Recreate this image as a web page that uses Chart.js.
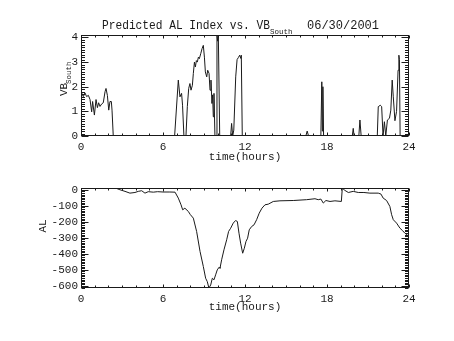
<!DOCTYPE html>
<html>
<head>
<meta charset="utf-8">
<title>Predicted AL Index vs. VB South</title>
<script src="https://cdn.jsdelivr.net/npm/chart.js@4/dist/chart.umd.min.js"></script>
<style>
  html, body { margin: 0; padding: 0; background: #fff; }
  #wrap { position: relative; width: 454px; height: 341px; overflow: hidden; }
  canvas { position: absolute; left: 0; }
  #vbCanvas { top: 0; }
  #alCanvas { top: 170px; }
</style>
</head>
<body>
<div id="wrap">
  <canvas id="vbCanvas" width="454" height="170"></canvas>
  <canvas id="alCanvas" width="454" height="171"></canvas>
</div>
<script>
// ---- time axis (hours UT) ----
const xTickHours = [0, 6, 12, 18, 24];

// ---- southward IMF, VB_South ----
const vbHours = [
  0.0, 0.05, 0.17, 0.29, 0.41, 0.54, 0.66, 0.78, 0.85, 0.98,
  1.1, 1.2, 1.29, 1.39, 1.51, 1.63, 1.76, 1.83, 1.93, 2.03,
  2.12, 2.22, 2.27, 2.36, 6.85, 7.12, 7.24, 7.36, 7.43, 7.53,
  7.68, 7.78, 7.88, 7.97, 8.05, 8.15, 8.22, 8.3, 8.37, 8.44,
  8.51, 8.59, 8.66, 8.76, 8.86, 8.95, 9.03, 9.1, 9.2, 9.27,
  9.37, 9.44, 9.51, 9.58, 9.63, 9.68, 9.73, 9.8, 9.88, 9.95,
  10.0, 10.05, 10.15, 10.95, 11.02, 11.1, 11.18, 11.32, 11.42, 11.52,
  11.61, 11.69, 11.73, 11.8, 16.45, 16.55, 16.65, 17.55, 17.62, 17.66,
  17.7, 17.75, 19.85, 19.92, 19.98, 20.33, 20.41, 20.5, 21.68, 21.75,
  21.9, 22.0, 22.1, 22.2, 22.3, 22.42, 22.57, 22.67, 22.77, 22.85,
  22.97, 23.09, 23.2, 23.26, 23.3, 23.35, 24.0
];
const vbSouth = [
  1.8, 1.8, 1.6, 1.75, 1.6, 1.65, 1.48, 0.98, 1.4, 0.85,
  1.48, 1.15, 1.35, 1.2, 1.3, 1.35, 1.8, 1.93, 1.65, 1.05,
  1.4, 1.4, 1.05, 0, 0, 2.27, 1.59, 1.73, 1.25, 0,
  0, 1.19, 1.93, 2.13, 1.86, 2.06, 2.54, 3.0, 2.8, 3.06,
  3.0, 3.2, 3.14, 3.34, 3.55, 3.68, 3.2, 2.6, 2.4, 2.67,
  2.54, 1.86, 2.27, 1.32, 1.67, 0.78, 1.73, 0, 0, 4.1,
  3.85, 4.05, 0, 0, 0.51, 0, 0.24, 2.4, 3.1, 3.19,
  3.28, 3.15, 3.28, 0, 0, 0.2, 0, 0, 2.2, 0.2,
  2.0, 0, 0, 0.31, 0, 0, 0.65, 0, 0, 1.19,
  1.25, 1.19, 0, 0.58, 0, 0.65, 0.72, 1.05, 2.27, 1.59,
  0.62, 1.0, 2.67, 3.28, 3.1, 0, 0
];
const vbTicks = [0, 1, 2, 3, 4];

// ---- predicted AL index (nT) ----
const alHours = [
  0.0, 2.5, 2.61, 2.85, 3.22, 3.58, 3.95, 4.19, 4.44, 4.68,
  4.92, 5.29, 5.6, 6.0, 6.5, 6.88, 7.12, 7.32, 7.44, 7.6,
  7.85, 8.0, 8.22, 8.46, 8.71, 8.95, 9.12, 9.24, 9.36, 9.49,
  9.61, 9.73, 9.85, 9.97, 10.1, 10.17, 10.29, 10.46, 10.66, 10.8,
  10.95, 11.14, 11.31, 11.44, 11.56, 11.68, 11.83, 11.95, 12.07, 12.19,
  12.31, 12.49, 12.66, 12.85, 13.04, 13.24, 13.46, 13.7, 14.07, 14.56,
  15.53, 16.5, 17.12, 17.36, 17.55, 17.73, 17.92, 18.22, 18.58, 19.05,
  19.12, 19.31, 19.56, 19.92, 20.29, 20.7, 21.14, 21.75, 21.95, 22.11,
  22.36, 22.6, 22.73, 22.85, 23.09, 23.34, 23.53, 23.7, 23.87, 24.0
];
const alIndex = [
  10, 10, 8, 0, -10, -21, -17, -10, -6, -21,
  -12, -15, -12, -14, -14, -15, -52, -94, -125, -115,
  -135, -155, -177, -260, -385, -479, -552, -573, -613, -594,
  -552, -562, -531, -500, -484, -490, -437, -375, -312, -260,
  -240, -208, -192, -198, -271, -333, -396, -365, -323, -302,
  -250, -229, -219, -187, -146, -115, -94, -90, -73, -69,
  -67, -62, -56, -62, -58, -83, -67, -73, -69, -73,
  10, -4, -17, -10, -17, -17, -21, -21, -27, -52,
  -67, -104, -156, -187, -208, -240, -255, -271, -281, -295
];
const alTicks = [0, -100, -200, -300, -400, -500, -600];

const INK = '#1a1a1a';
const MONO = '"Liberation Mono", "DejaVu Sans Mono", monospace';

// Boxed axes with inward major/minor ticks on all four sides, plus the
// panel's free text (title, axis titles with subscripts).
const idlFrame = {
  id: 'idlFrame',
  afterDraw(chart, args, o) {
    const { ctx, chartArea: a } = chart;
    const xs = chart.scales.x, ys = chart.scales.y;
    const L = Math.round(a.left) + 0.5, R = Math.round(a.right) - 0.5;
    const T = Math.round(a.top) + 0.5, B = Math.round(a.bottom) - 0.5;
    ctx.save();
    ctx.strokeStyle = INK;
    ctx.lineWidth = 1;
    ctx.strokeRect(L, T, R - L, B - T);
    ctx.beginPath();
    // x ticks (bottom and top edges)
    const xk0 = Math.ceil(xs.min / o.xMinor - 1e-6), xk1 = Math.floor(xs.max / o.xMinor + 1e-6);
    for (let k = xk0; k <= xk1; k++) {
      const v = k * o.xMinor;
      const px = Math.round(xs.getPixelForValue(v)) + 0.5;
      const len = (k % o.xPer === 0) ? o.xMajorLen : o.xMinorLen;
      ctx.moveTo(px, B); ctx.lineTo(px, B - len);
      ctx.moveTo(px, T); ctx.lineTo(px, T + len);
    }
    // y ticks (left and right edges)
    const yk0 = Math.ceil(ys.min / o.yMinor - 1e-6), yk1 = Math.floor(ys.max / o.yMinor + 1e-6);
    for (let k = yk0; k <= yk1; k++) {
      const v = k * o.yMinor;
      const py = Math.round(ys.getPixelForValue(v)) + 0.5;
      const len = (k % o.yPer === 0) ? o.yMajorLen : o.yMinorLen;
      ctx.moveTo(L, py); ctx.lineTo(L + len, py);
      ctx.moveTo(R, py); ctx.lineTo(R - len, py);
    }
    ctx.stroke();

    ctx.fillStyle = INK;
    for (const t of (o.texts || [])) {
      ctx.save();
      ctx.translate(t.x, t.y);
      if (t.rotate) ctx.rotate(t.rotate);
      ctx.font = t.font;
      ctx.textAlign = t.align || 'left';
      ctx.textBaseline = t.baseline || 'alphabetic';
      if (t.maxWidth) ctx.fillText(t.text, 0, 0, t.maxWidth);
      else ctx.fillText(t.text, 0, 0);
      ctx.restore();
    }
    ctx.restore();
  }
};

function panel(canvasId, xs, ys, yMin, yMax, yTickValues, frame, pad) {
  return new Chart(document.getElementById(canvasId), {
    type: 'line',
    data: {
      datasets: [{
        data: xs.map((h, i) => ({ x: h, y: ys[i] })),
        borderColor: INK,
        borderWidth: 1,
        pointRadius: 0,
        tension: 0,
        fill: false
      }]
    },
    options: {
      responsive: false,
      animation: false,
      events: [],
      layout: { padding: pad },
      plugins: { legend: { display: false }, tooltip: { enabled: false }, idlFrame: frame },
      scales: {
        x: {
          type: 'linear',
          min: 0, max: 24,
          grid: { display: false, drawTicks: false },
          border: { display: false },
          ticks: { color: INK, font: { family: MONO, size: 11 }, padding: 4, maxRotation: 0, autoSkip: false },
          afterBuildTicks: s => { s.ticks = xTickHours.map(v => ({ value: v })); },
          afterFit: s => { s.height = 30; }
        },
        y: {
          type: 'linear',
          min: yMin, max: yMax,
          grid: { display: false, drawTicks: false },
          border: { display: false },
          ticks: { color: INK, font: { family: MONO, size: 11 }, padding: 3, autoSkip: false },
          afterBuildTicks: s => { s.ticks = yTickValues.map(v => ({ value: v })); },
          afterFit: s => { s.width = 81; }
        }
      }
    },
    plugins: [idlFrame]
  });
}

const ticksCommon = { xMinor: 1, xPer: 6, xMajorLen: 3, xMinorLen: 2, yMajorLen: 7, yMinorLen: 3.5 };

// upper panel: VB_South
panel('vbCanvas', vbHours, vbSouth, 0, 4.1, vbTicks,
  Object.assign({}, ticksCommon, {
    yMinor: 0.1, yPer: 10,
    texts: [
      { text: 'Predicted AL Index vs. VB', x: 102, y: 29, font: '12px ' + MONO, maxWidth: 168 },
      { text: 'South', x: 270, y: 34, font: '7.5px ' + MONO, maxWidth: 23 },
      { text: '06/30/2001', x: 307, y: 29, font: '12px ' + MONO, maxWidth: 73 },
      { text: 'time(hours)', x: 245, y: 157, font: '11px ' + MONO, align: 'center', baseline: 'middle' },
      { text: 'VB', x: 67, y: 96, font: '11px ' + MONO, rotate: -Math.PI / 2 },
      { text: 'South', x: 71, y: 84, font: '7.5px ' + MONO, rotate: -Math.PI / 2 }
    ]
  }),
  { left: 0, right: 45, top: 35, bottom: 4 });

// lower panel: AL index
panel('alCanvas', alHours, alIndex, -613, 11, alTicks,
  Object.assign({}, ticksCommon, {
    yMinor: 10, yPer: 10,
    texts: [
      { text: 'time(hours)', x: 245, y: 137, font: '11px ' + MONO, align: 'center', baseline: 'middle' },
      { text: 'AL', x: 46, y: 56, font: '11px ' + MONO, align: 'center', rotate: -Math.PI / 2 }
    ]
  }),
  { left: 0, right: 45, top: 18, bottom: 23 });
</script>
</body>
</html>
